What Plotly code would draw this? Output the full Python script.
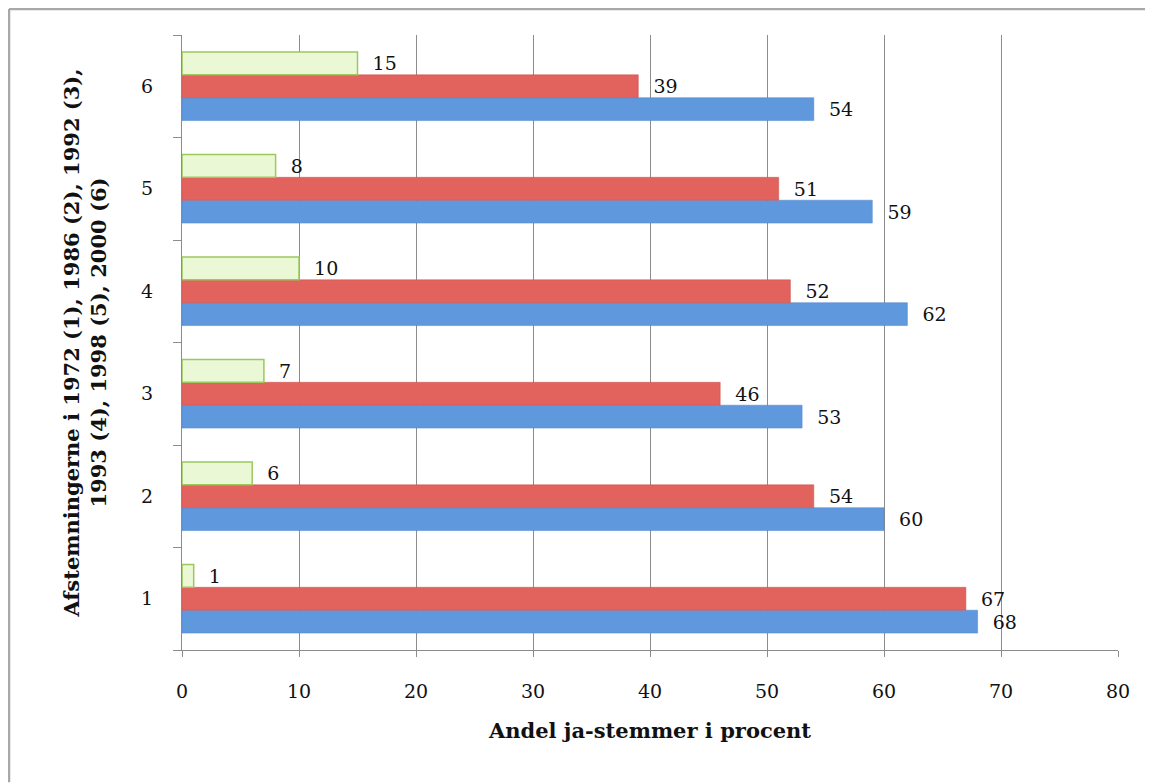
import plotly.graph_objects as go

categories = ["1", "2", "3", "4", "5", "6"]
blue_vals = [68, 60, 53, 62, 59, 54]
red_vals = [67, 54, 46, 52, 51, 39]
green_vals = [1, 6, 7, 10, 8, 15]
x_ticks = [0, 10, 20, 30, 40, 50, 60, 70, 80]

FONT = "DejaVu Serif"
pad = "\u00a0\u00a0"

fig = go.Figure()
fig.add_trace(go.Bar(y=categories, x=blue_vals, orientation="h", name="blue",
                     marker=dict(color="#5f98dd", line=dict(color="#4a83c8", width=0.5)),
                     text=[pad + str(v) for v in blue_vals], textposition="outside",
                     textfont=dict(family=FONT, size=19, color="#111"), cliponaxis=False))
fig.add_trace(go.Bar(y=categories, x=red_vals, orientation="h", name="red",
                     marker=dict(color="#e2625d", line=dict(color="#c9514c", width=0.5)),
                     text=[pad + str(v) for v in red_vals], textposition="outside",
                     textfont=dict(family=FONT, size=19, color="#111"), cliponaxis=False))
fig.add_trace(go.Bar(y=categories, x=green_vals, orientation="h", name="green",
                     marker=dict(color="#eaf8d6", line=dict(color="#9cc85c", width=1.5)),
                     text=[pad + str(v) for v in green_vals], textposition="outside",
                     textfont=dict(family=FONT, size=19, color="#111"), cliponaxis=False))

fig.update_layout(
    width=1145, height=776,
    margin=dict(l=174, r=35, t=27, b=134),
    paper_bgcolor="white", plot_bgcolor="white",
    barmode="group", bargap=0.33, bargroupgap=0,
    showlegend=False,
    font=dict(family=FONT, size=19, color="#111"),
    xaxis=dict(range=[0, 80], tickvals=x_ticks, showgrid=True, gridcolor="#8c8c8c", gridwidth=1,
               showline=True, linecolor="#8c8c8c", ticks="outside", ticklen=6, tickcolor="#8c8c8c",
               zeroline=False, tickfont=dict(family=FONT, size=19), ticklabelstandoff=18,
               title=dict(text="<b>Andel ja-stemmer i procent</b>", font=dict(family=FONT, size=21), standoff=22)),
    yaxis=dict(type="category", categoryorder="array", categoryarray=categories,
               showgrid=False, showline=True, linecolor="#8c8c8c", ticks="outside", ticklen=8,
               tickcolor="#8c8c8c", tickson="boundaries", tickfont=dict(family=FONT, size=19),
               ticklabelstandoff=24,
               title=dict(text="<b>Afstemningerne i 1972 (1), 1986 (2), 1992 (3),<br>1993 (4), 1998 (5), 2000 (6)</b>",
                          font=dict(family=FONT, size=21), standoff=28)),
    shapes=[
        dict(type="line", xref="paper", yref="paper", x0=-0.1848, x1=-0.1848, y0=-0.215, y1=1.0423,
             line=dict(color="#a8a8a8", width=2.5), layer="below"),
        dict(type="line", xref="paper", yref="paper", x0=-0.1848, x1=1.035, y0=1.0423, y1=1.0423,
             line=dict(color="#a8a8a8", width=2.5), layer="below"),
    ],
)

fig.write_html("out.html")
